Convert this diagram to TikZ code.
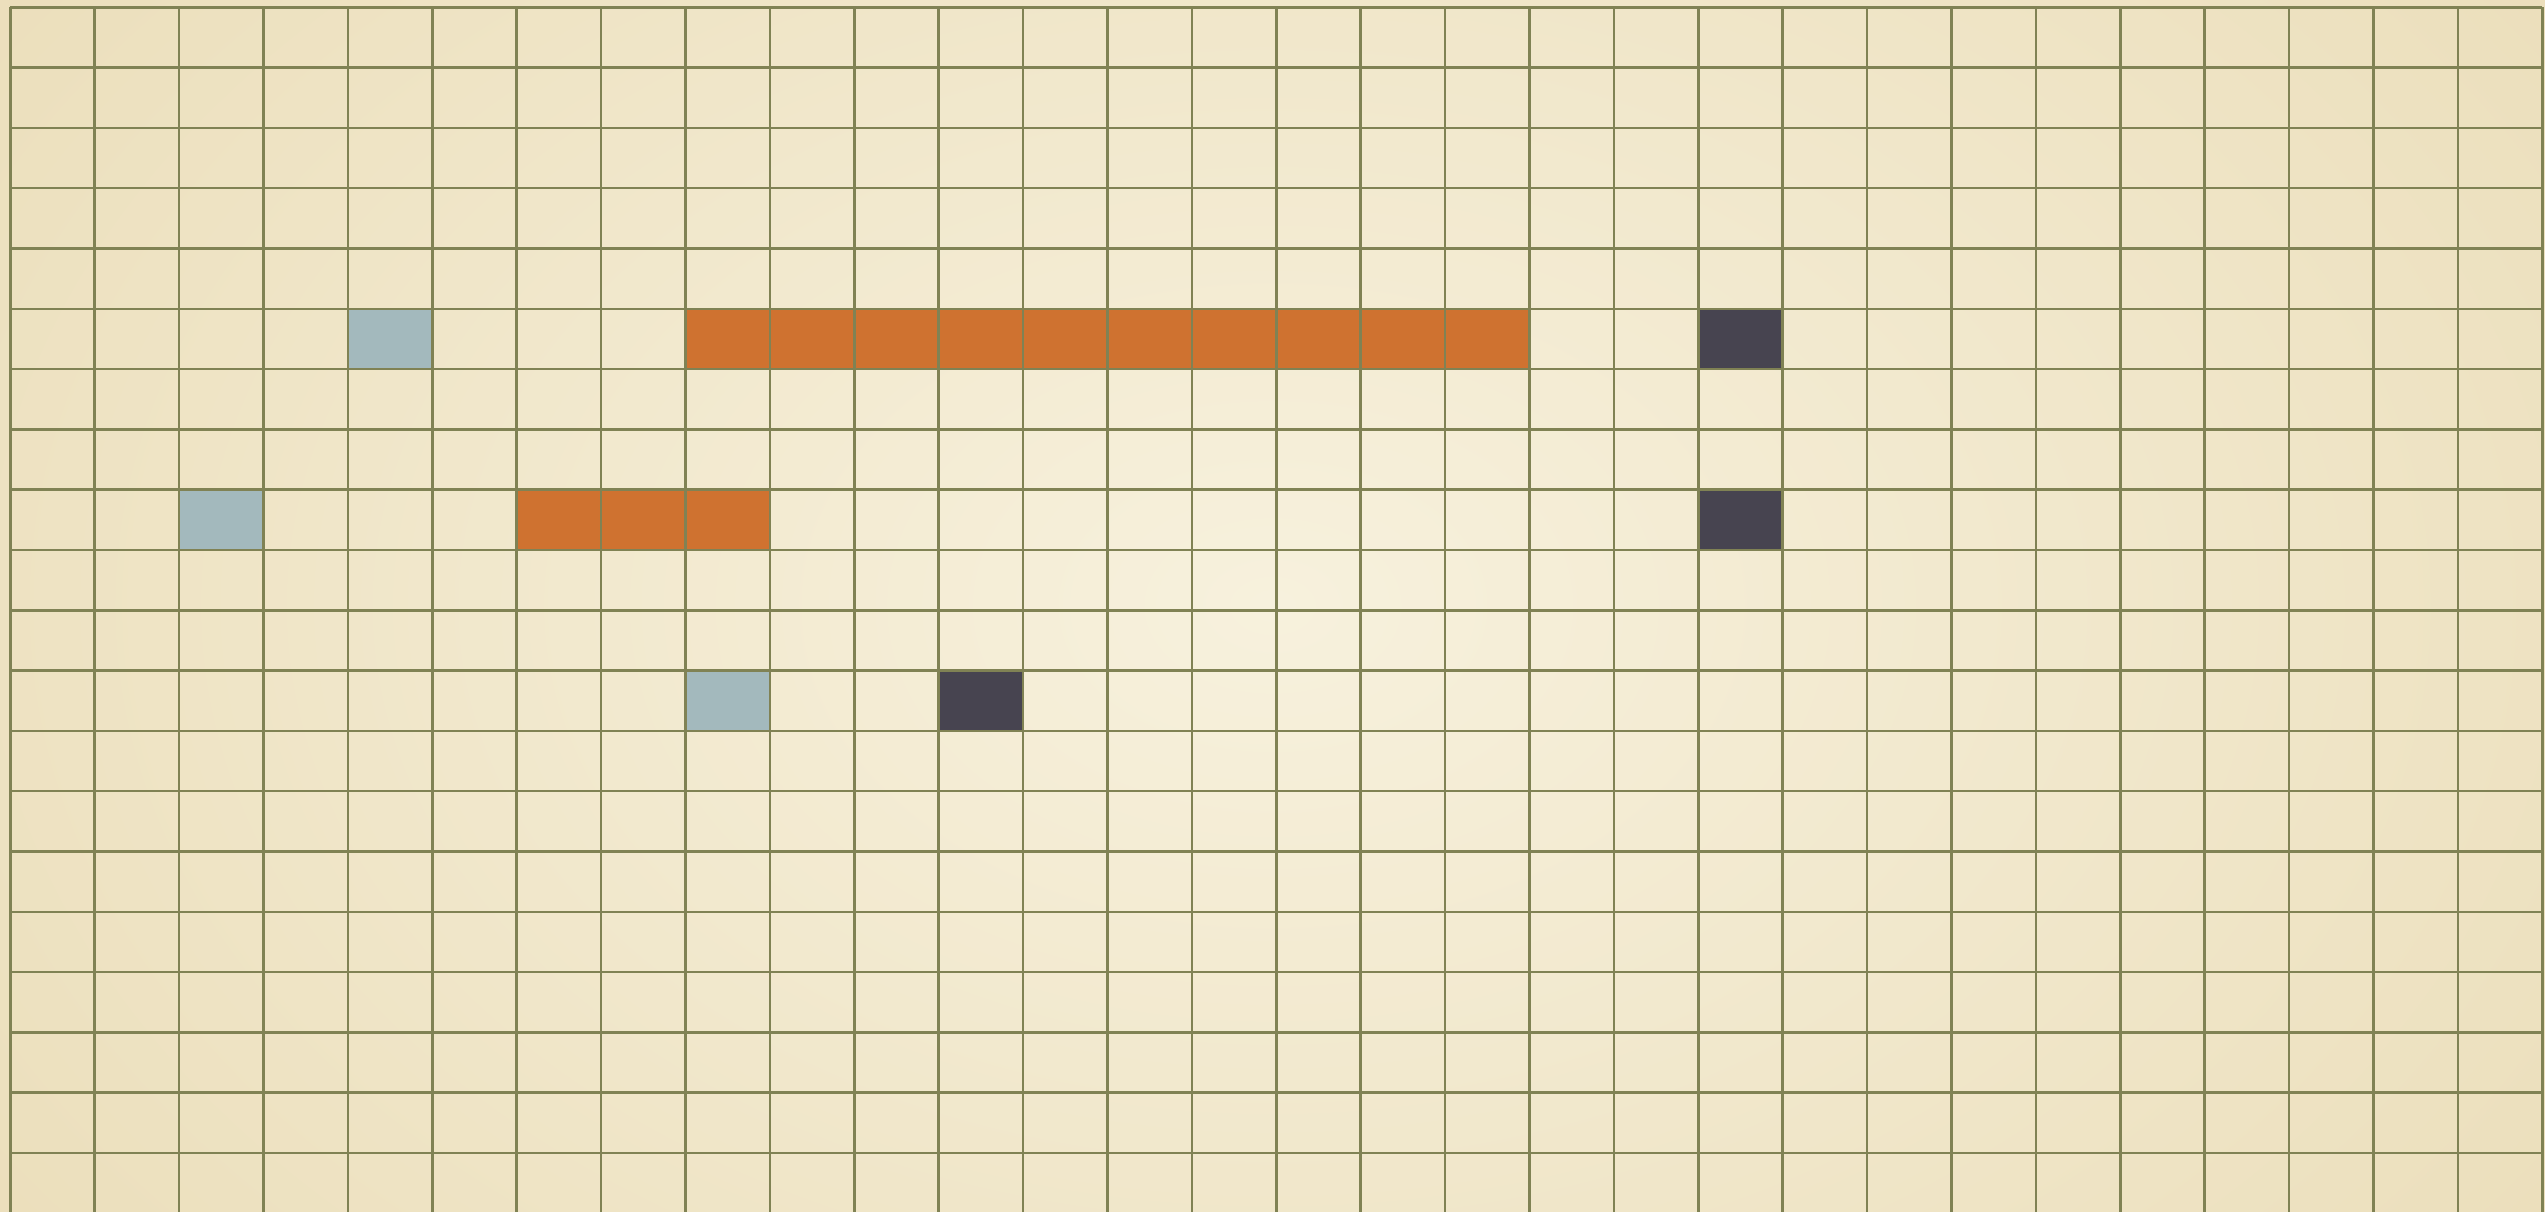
\documentclass[tikz,border=0pt]{standalone}
\definecolor{paperin}{RGB}{247,241,221}
\definecolor{paperout}{RGB}{228,211,166}
\definecolor{gridline}{RGB}{128,130,84}
\definecolor{cellorange}{RGB}{207,114,48}
\definecolor{cellblue}{RGB}{163,185,189}
\definecolor{celldark}{RGB}{71,68,80}
\tikzset{
  gridstroke/.style={draw=gridline,line width=1.25pt},
  orangecell/.style={fill=cellorange},
  bluecell/.style={fill=cellblue},
  darkcell/.style={fill=celldark},
}
\newcommand{\cellat}[3]{% style, col, row
  \fill[#1] ({10.3+84.4*#2},{7.3+60.3*#3}) rectangle ++(84.4,60.3);}
\begin{document}
\begin{tikzpicture}[x=0.5pt,y=-0.5pt]
\useasboundingbox (0,0) rectangle (2545,1211);
\begin{scope}
\clip (0,0) rectangle (2545,1211);
\shade[inner color=paperin,outer color=paperout] (-1300,-1150) rectangle (3845,2361);
% coloured cells
\cellat{bluecell}{4}{5}
\foreach \c in {8,...,17} {\cellat{orangecell}{\c}{5}}
\cellat{darkcell}{20}{5}
\cellat{bluecell}{2}{8}
\foreach \c in {6,7,8} {\cellat{orangecell}{\c}{8}}
\cellat{darkcell}{20}{8}
\cellat{bluecell}{8}{11}
\cellat{darkcell}{11}{11}
% grid
\foreach \i in {0,...,30} {
  \draw[gridstroke] ({10.3+84.4*\i},7.3) -- ({10.3+84.4*\i},1230);
}
\foreach \j in {0,...,20} {
  \draw[gridstroke] (10.3,{7.3+60.3*\j}) -- (2542.3,{7.3+60.3*\j});
}
\end{scope}
\end{tikzpicture}
\end{document}
